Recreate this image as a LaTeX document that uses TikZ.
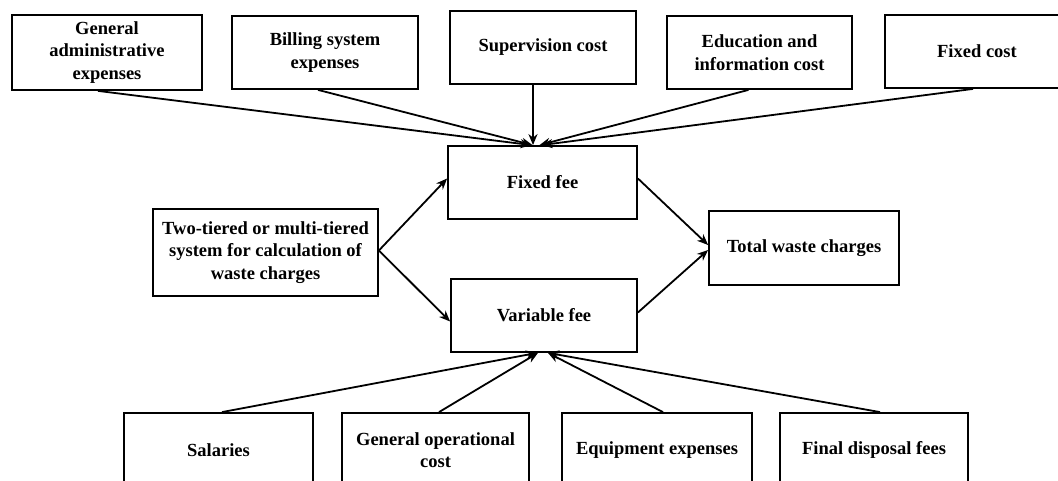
\documentclass[tikz,border=0pt]{standalone}
\usepackage{fontspec}
\setmainfont{Liberation Serif}
\usetikzlibrary{arrows.meta,calc}
\begin{document}
\begin{tikzpicture}[x=1pt,y=-1pt,
  box/.style={draw=black,line width=1.8pt,fill=white,inner sep=0pt,align=center,
    font=\fontsize{18.5}{22.5}\selectfont\bfseries},
  conn/.style={line width=1.8pt,-{Stealth[length=11pt,width=9pt]}}]
\useasboundingbox (0,0) rectangle (1058,481);
\clip (0,0) rectangle (1058,481);
% top boxes
\node[box,minimum width=190,minimum height=75] (gae) at (107,52.5) {General\\administrative\\expenses};
\node[box,minimum width=186,minimum height=73] (bill) at (325,52.5) {Billing system\\expenses};
\node[box,minimum width=186,minimum height=73] (sup) at (543,47.5) {Supervision cost};
\node[box,minimum width=185,minimum height=73] (edu) at (759.5,52.5) {Education and\\information cost};
\node[box,minimum width=184,minimum height=73] (fc) at (977,51.5) {Fixed cost};
% middle
\node[box,minimum width=189,minimum height=73] (ff) at (542.5,182.5) {Fixed fee};
\node[box,minimum width=186,minimum height=73] (vf) at (544,315.5) {Variable fee};
\node[box,minimum width=225,minimum height=87] (tt) at (265.5,252.5) {Two-tiered or multi-tiered\\system for calculation of\\waste charges};
\node[box,minimum width=190,minimum height=74] (tw) at (804,248) {Total waste charges};
% bottom
\node[box,minimum width=189,minimum height=74] (sal) at (218.5,450) {Salaries};
\node[box,minimum width=187,minimum height=74] (gop) at (435.5,450) {General operational\\cost};
\node[box,minimum width=190,minimum height=74] (eq) at (657,450) {Equipment expenses};
\node[box,minimum width=188,minimum height=74] (fd) at (874,450) {Final disposal fees};
% top arrows
\draw[conn] ($(gae.south)+(-9,0)$) -- ($(ff.north)+(-11,0)$);
\draw[conn] ($(bill.south)+(-7,0)$) -- ($(ff.north)+(-10,0)$);
\draw[conn] ($(sup.south)+(-10,0)$) -- ($(ff.north)+(-9.5,0)$);
\draw[conn] ($(edu.south)+(-11,0)$) -- ($(ff.north)+(-3,0)$);
\draw[conn] ($(fc.south)+(-4,0)$) -- ($(ff.north)+(-1,0)$);
% middle arrows
\draw[conn] ($(tt.east)+(0,-2)$) -- ($(ff.west)+(0,-4)$);
\draw[conn] ($(tt.east)+(0,-2)$) -- ($(vf.west)+(0,6)$);
\draw[conn] ($(ff.east)+(0,-4)$) -- ($(tw.west)+(0,-3)$);
\draw[conn] ($(vf.east)+(0,-3)$) -- ($(tw.west)+(0,2)$);
% bottom arrows
\draw[conn] ($(sal.north)+(3.5,0)$) -- ($(vf.south)+(-7,0)$);
\draw[conn] ($(gop.north)+(3.5,0)$) -- ($(vf.south)+(-6,0)$);
\draw[conn] ($(eq.north)+(6,0)$) -- ($(vf.south)+(4,0)$);
\draw[conn] ($(fd.north)+(6,0)$) -- ($(vf.south)+(4,0)$);
\end{tikzpicture}
\end{document}
